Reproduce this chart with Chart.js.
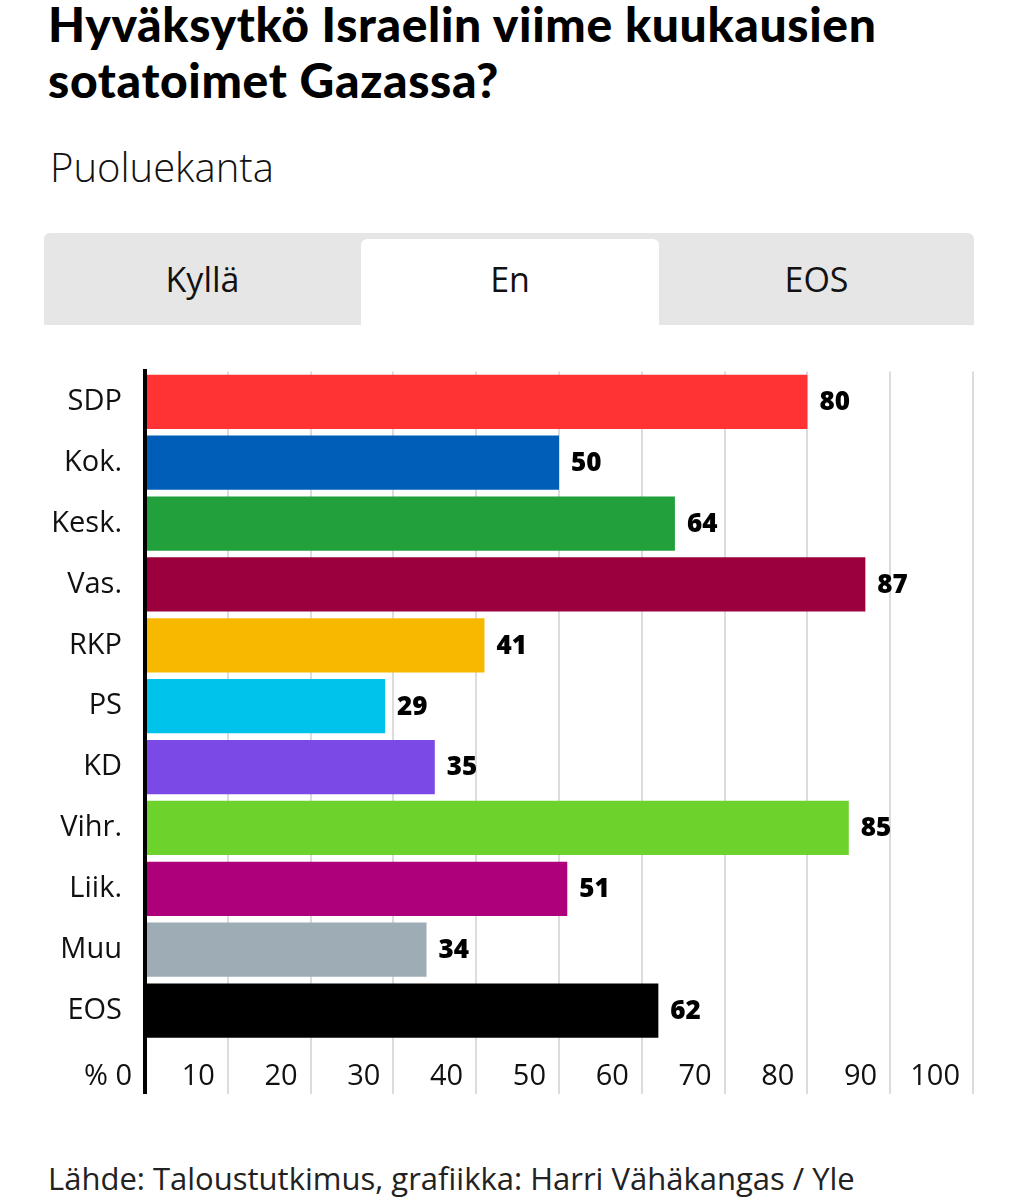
<!DOCTYPE html>
<html>
<head>
<meta charset="utf-8">
<script src="https://cdn.jsdelivr.net/npm/chart.js@4/dist/chart.umd.min.js"></script>
<style>
  html,body{margin:0;padding:0;background:#fff;}
  body{width:1016px;height:1200px;position:relative;overflow:hidden;color:#000;}
  #title{position:absolute;left:48px;top:-4px;font:900 48px/56px Lato, sans-serif;letter-spacing:0.65px;white-space:nowrap;}
  #sub{position:absolute;left:50px;top:139px;font:300 40px "Open Sans", sans-serif;color:#111;}
  #tabbar{position:absolute;left:44px;top:233px;width:930px;height:92px;background:#e6e6e6;border-radius:6px 6px 0 0;}
  .tab{position:absolute;display:flex;align-items:center;justify-content:center;font:400 34px "Open Sans", sans-serif;color:#111;}
  #active{background:#fff;border-radius:6px 6px 0 0;}
  #wrap{position:absolute;left:0;top:331px;width:1016px;height:779px;}
  #foot{position:absolute;left:48px;top:1157px;font:400 31px "Open Sans", sans-serif;color:#222;white-space:nowrap;}
</style>
</head>
<body>
<div id="title">Hyväksytkö Israelin viime kuukausien<br>sotatoimet Gazassa?</div>
<div id="sub">Puoluekanta</div>
<div id="tabbar"></div>
<div class="tab" style="left:44px;top:239px;width:317px;height:80px;">Kyllä</div>
<div class="tab" id="active" style="left:361px;top:239px;width:298px;height:86px;"><span style="margin-top:-6px">En</span></div>
<div class="tab" style="left:659px;top:239px;width:315px;height:80px;">EOS</div>
<div id="wrap"><canvas id="c"></canvas></div>
<div id="foot">Lähde: Taloustutkimus, grafiikka: Harri Vähäkangas / Yle</div>
<script>
const categories = ['SDP', 'Kok.', 'Kesk.', 'Vas.', 'RKP', 'PS', 'KD', 'Vihr.', 'Liik.', 'Muu', 'EOS'];
const values = [80, 50, 64, 87, 41, 29, 35, 85, 51, 34, 62];
const barColors = ['#ff3334', '#005eb8', '#22a03c', '#9b003d', '#f8b800', '#00c3eb', '#7a49e6', '#6dd22c', '#ae007a', '#9eadb5', '#000000'];
const xTickLabels = ['% 0', '10', '20', '30', '40', '50', '60', '70', '80', '90', '100'];

const valueLabels = {
  id: 'valueLabels',
  afterDatasetsDraw(chart) {
    const ctx = chart.ctx;
    const meta = chart.getDatasetMeta(0);
    ctx.save();
    ctx.font = '800 26px "Open Sans", sans-serif';
    ctx.fillStyle = '#000';
    ctx.textBaseline = 'middle';
    ctx.textAlign = 'left';
    meta.data.forEach((bar, i) => {
      ctx.fillText(String(values[i]), bar.x + 12, bar.y + 1);
    });
    ctx.restore();
  }
};

new Chart(document.getElementById('c'), {
  type: 'bar',
  data: {
    labels: categories,
    datasets: [{
      data: values,
      backgroundColor: barColors,
      borderWidth: 0,
      barPercentage: 0.89,
      categoryPercentage: 1.0
    }]
  },
  options: {
    indexAxis: 'y',
    responsive: true,
    maintainAspectRatio: false,
    animation: false,
    layout: { padding: { top: 30, right: 43, left: 0, bottom: 0 } },
    plugins: { legend: { display: false }, tooltip: { enabled: false } },
    scales: {
      x: {
        type: 'linear',
        min: 0,
        max: 100,
        afterFit(scale) { scale.height = 69; },
        border: { display: false },
        grid: {
          color: c => (c.tick && c.tick.value === 0) ? '#000' : '#dcdcdc',
          lineWidth: c => (c.tick && c.tick.value === 0) ? 4 : 2,
          tickLength: 53,
          drawTicks: true
        },
        ticks: {
          stepSize: 10,
          autoSkip: false,
          maxRotation: 0,
          minRotation: 0,
          align: 'end',
          labelOffset: -13,
          padding: -35,
          color: '#111',
          font: { family: '"Open Sans", sans-serif', size: 29 },
          callback: (v, i) => xTickLabels[i]
        }
      },
      y: {
        z: 1,
        afterFit(scale) { scale.width = 145; },
        border: { display: true, color: '#000', width: 4 },
        grid: { display: false, drawTicks: false },
        ticks: {
          padding: 23,
          color: '#111',
          font: { family: '"Open Sans", sans-serif', size: 29 }
        }
      }
    }
  },
  plugins: [valueLabels]
});
</script>
</body>
</html>
